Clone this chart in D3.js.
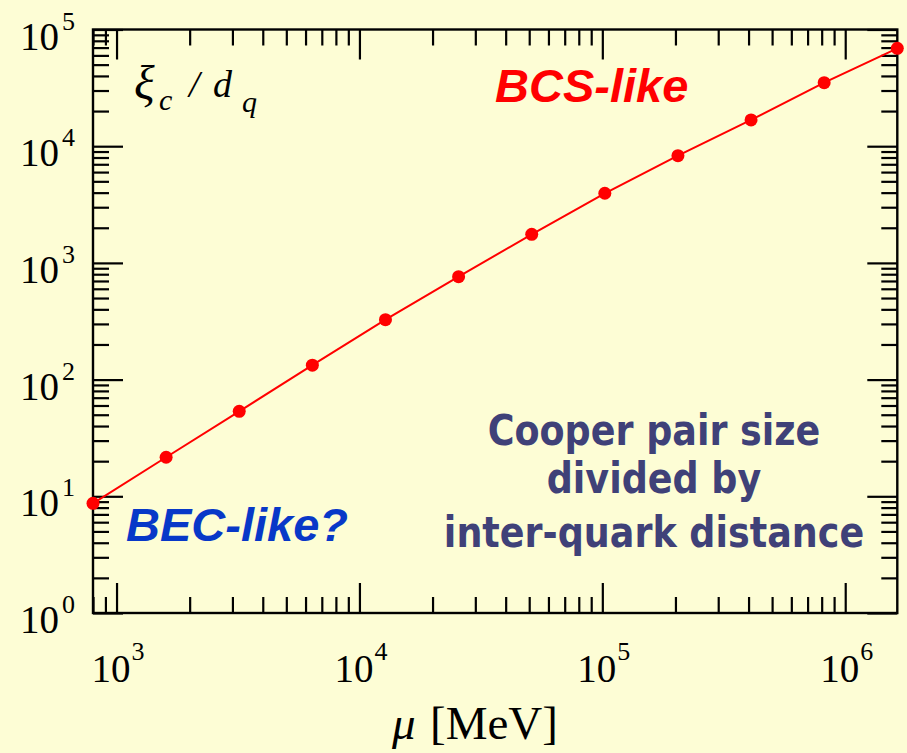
<!DOCTYPE html>
<html>
<head>
<meta charset="utf-8">
<script src="https://cdn.jsdelivr.net/npm/d3@7"></script>
<style>
  html, body { margin: 0; padding: 0; background: #fdfdd5; }
  svg { display: block; }
</style>
</head>
<body>
<svg id="chart"></svg>
<script>
// chemical potential mu [MeV], doubling each step
const muValues = [800, 1600, 3200, 6400, 12800, 25600, 51200, 102400, 204800, 409600, 819200, 1638400];
// xi_c / d_q
const ratioValues = [8.7, 21.6, 53.5, 133, 326, 762, 1758, 3950, 8290, 16780, 35000, 69000];
const xMajorTicks = [1e3, 1e4, 1e5, 1e6];
const yMajorTicks = [1e0, 1e1, 1e2, 1e3, 1e4, 1e5];
const xTickExponents = ['3', '4', '5', '6'];
const yTickExponents = ['0', '1', '2', '3', '4', '5'];
const noteLines = ['Cooper pair size', 'divided by', 'inter-quark distance'];

const width = 907;
const height = 753;
const frame = { left: 93, right: 897.3, top: 29.5, bottom: 613 };

const svg = d3.select('#chart')
  .attr('width', width)
  .attr('height', height);

svg.append('rect')
  .attr('width', width)
  .attr('height', height)
  .attr('fill', '#fdfdd5');

const xScale = d3.scaleLog()
  .domain([800, 1638400])
  .range([frame.left, frame.right]);
const yScale = d3.scaleLog()
  .domain([1, 1e5])
  .range([frame.bottom, frame.top]);

// minor ticks: 2..9 times every decade inside the domain
function minorTicks(scale) {
  const [lo, hi] = scale.domain();
  const out = [];
  for (let e = Math.floor(Math.log10(lo)); e <= Math.ceil(Math.log10(hi)); e++) {
    for (let m = 2; m <= 9; m++) {
      const v = m * Math.pow(10, e);
      if (v >= lo && v <= hi) out.push(v);
    }
  }
  return out;
}

const plotW = frame.right - frame.left;
const plotH = frame.bottom - frame.top;

function drawAxis(axisFn, scale, transform, majors) {
  const g = svg.append('g').attr('transform', transform);
  g.append('g')
    .call(axisFn(scale).tickValues(majors).tickSize(-30).tickSizeOuter(0).tickFormat(''));
  g.append('g')
    .call(axisFn(scale).tickValues(minorTicks(scale)).tickSize(-16).tickSizeOuter(0).tickFormat(''));
  g.selectAll('.domain').remove();
  g.selectAll('.tick line').attr('stroke', '#000').attr('stroke-width', 2.2);
  return g;
}

drawAxis(d3.axisBottom, xScale, `translate(0, ${frame.bottom})`, xMajorTicks);
drawAxis(d3.axisTop, xScale, `translate(0, ${frame.top})`, xMajorTicks);
drawAxis(d3.axisLeft, yScale, `translate(${frame.left}, 0)`, yMajorTicks);
drawAxis(d3.axisRight, yScale, `translate(${frame.right}, 0)`, yMajorTicks);

// frame
svg.append('rect')
  .attr('x', frame.left)
  .attr('y', frame.top)
  .attr('width', plotW)
  .attr('height', plotH)
  .attr('fill', 'none')
  .attr('stroke', '#000')
  .attr('stroke-width', 2.4);

// tick labels 10^n
const serif = '"Liberation Serif", "Times New Roman", serif';

svg.append('g').selectAll('text')
  .data(yMajorTicks)
  .enter().append('text')
    .attr('x', 20)
    .attr('y', d => yScale(d) + 20)
    .attr('font-family', serif)
    .attr('font-size', 39)
    .attr('fill', '#000')
    .each(function (d, i) {
      const t = d3.select(this);
      t.append('tspan').text('10');
      t.append('tspan')
        .attr('font-size', 26)
        .attr('dx', 3)
        .attr('dy', -20)
        .text(yTickExponents[i]);
    });

svg.append('g').selectAll('text')
  .data(xMajorTicks)
  .enter().append('text')
    .attr('x', d => xScale(d) - 25)
    .attr('y', frame.bottom + 69)
    .attr('font-family', serif)
    .attr('font-size', 39)
    .attr('fill', '#000')
    .each(function (d, i) {
      const t = d3.select(this);
      t.append('tspan').text('10');
      t.append('tspan')
        .attr('font-size', 26)
        .attr('dx', 1)
        .attr('dy', -22)
        .text(xTickExponents[i]);
    });

// axis title
const xTitle = svg.append('text')
  .attr('x', 392)
  .attr('y', 739)
  .attr('font-family', serif)
  .attr('font-size', 47)
  .attr('fill', '#000');
xTitle.append('tspan').attr('font-style', 'italic').text('μ');
xTitle.append('tspan').attr('x', 430).text('[MeV]');

// quantity label xi_c / d_q
const yTitle = svg.append('text')
  .attr('font-family', serif)
  .attr('fill', '#000')
  .attr('font-style', 'italic');
yTitle.append('tspan').attr('x', 134).attr('y', 99).attr('font-size', 48).text('ξ');
yTitle.append('tspan').attr('x', 159).attr('y', 110).attr('font-size', 30).text('c');
yTitle.append('tspan').attr('x', 189).attr('y', 97).attr('font-size', 38).text('/');
yTitle.append('tspan').attr('x', 213).attr('y', 97).attr('font-size', 38).text('d');
yTitle.append('tspan').attr('x', 242).attr('y', 112).attr('font-size', 30).text('q');

// data
const points = muValues.map((mu, i) => ({ mu, r: ratioValues[i] }));

svg.append('path')
  .datum(points)
  .attr('fill', 'none')
  .attr('stroke', '#ff0000')
  .attr('stroke-width', 2)
  .attr('d', d3.line().x(d => xScale(d.mu)).y(d => yScale(d.r)));

svg.append('g').selectAll('circle')
  .data(points)
  .enter().append('circle')
    .attr('cx', d => xScale(d.mu))
    .attr('cy', d => yScale(d.r))
    .attr('r', 6.5)
    .attr('fill', '#ff0000');

// annotations
const sans = '"Liberation Sans", Arial, sans-serif';
svg.append('text')
  .attr('x', 495)
  .attr('y', 102)
  .attr('font-family', sans)
  .attr('font-weight', 'bold')
  .attr('font-style', 'italic')
  .attr('font-size', 47)
  .attr('fill', '#ff0000')
  .text('BCS-like');

svg.append('text')
  .attr('x', 126)
  .attr('y', 541)
  .attr('font-family', sans)
  .attr('font-weight', 'bold')
  .attr('font-style', 'italic')
  .attr('font-size', 47)
  .attr('fill', '#0838c8')
  .text('BEC-like?');

// rounded bold note, stretched a little vertically like the original hand-style font
const noteBaselines = [445, 493, 547];
svg.append('g').selectAll('text')
  .data(noteLines)
  .enter().append('text')
    .attr('transform', (d, i) => `translate(654, ${noteBaselines[i]}) scale(1, 1.16)`)
    .attr('text-anchor', 'middle')
    .attr('font-family', '"Comic Sans MS", "DejaVu Sans", sans-serif')
    .attr('font-weight', 'bold')
    .attr('font-size', 36.5)
    .attr('fill', '#3f4178')
    .text(d => d);
</script>
</body>
</html>
